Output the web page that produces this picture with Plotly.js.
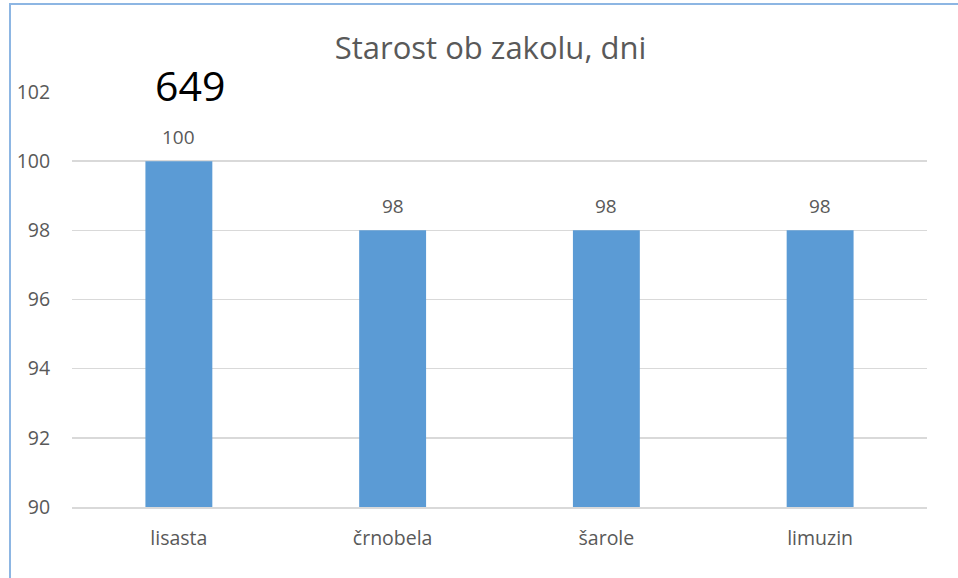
<!DOCTYPE html>
<html>
<head>
<meta charset="utf-8">
<script src="https://cdn.plot.ly/plotly-3.0.1.min.js"></script>
<style>
  html, body { margin: 0; padding: 0; background: #fff; }
  #chart { width: 958px; height: 578px; }
  #frame { position: absolute; left: 9px; top: 3px; width: 2000px; height: 2000px;
           border-left: 2px solid #8DB6E3; border-top: 2px solid #8DB6E3; pointer-events: none; }
</style>
</head>
<body>
<div id="chart"></div>
<div id="frame"></div>
<script>
const categories = ["lisasta", "črnobela", "šarole", "limuzin"];
const values = [100, 98, 98, 98];
const yTicks = [90, 92, 94, 96, 98, 100, 102];
const titleText = "Starost ob zakolu, dni";
const extraText = "649";

const FONT = "Open Sans, Noto Sans, sans-serif";
const GREY = "#595959";

const trace = {
  type: "bar",
  x: categories,
  y: values,
  marker: { color: "#5B9BD5" },
  hoverinfo: "skip"
};

const annotations = categories.map((c, i) => ({
  x: c, y: values[i], xref: "x", yref: "y",
  text: String(values[i]), showarrow: false,
  yshift: 24, font: { family: FONT, size: 19, color: GREY }
}));
annotations.push({
  x: 0.138, y: 1.018, xref: "paper", yref: "paper",
  xanchor: "center", yanchor: "middle",
  text: extraText, showarrow: false,
  font: { family: FONT, size: 41, color: "#000" }
});

const layout = {
  width: 958, height: 578,
  margin: { l: 72, r: 31, t: 92, b: 71, pad: 0 },
  paper_bgcolor: "#fff", plot_bgcolor: "#fff",
  showlegend: false,
  bargap: 0.687,
  title: { text: titleText, x: 0.512, xanchor: "center", y: 0.917, yanchor: "middle",
           font: { family: FONT, size: 31, color: GREY } },
  xaxis: {
    type: "category",
    showgrid: false, zeroline: false,
    showline: true, linecolor: "#D9D9D9", linewidth: 1.5,
    ticks: "outside", ticklen: 13, tickcolor: "rgba(0,0,0,0)",
    tickfont: { family: FONT, size: 19.5, color: GREY }
  },
  yaxis: {
    range: [90, 102], tickvals: yTicks, ticktext: yTicks.map(String),
    showgrid: true, gridcolor: "#D9D9D9", gridwidth: 1.5,
    zeroline: false, showline: false,
    ticks: "outside", ticklen: 17, tickcolor: "rgba(0,0,0,0)",
    tickfont: { family: FONT, size: 19.5, color: GREY }
  },
  annotations: annotations
};

Plotly.newPlot("chart", [trace], layout, { displayModeBar: false, staticPlot: true });
</script>
</body>
</html>
